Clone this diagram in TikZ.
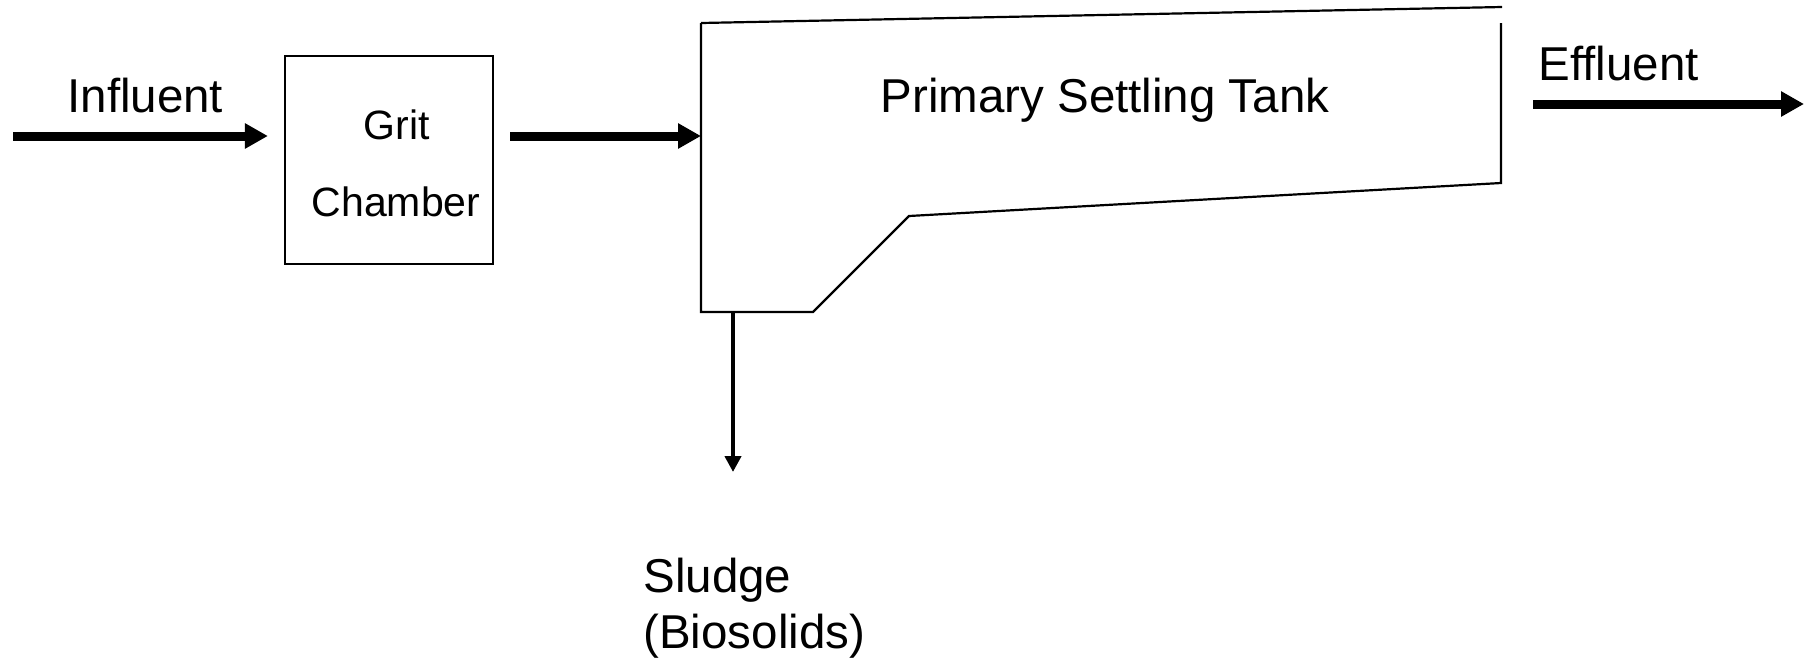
\documentclass[tikz,border=0pt]{standalone}
\usepackage{fontspec}
\setmainfont{Liberation Sans}
\usetikzlibrary{arrows.meta}
\begin{document}
\begin{tikzpicture}[x=0.5pt,y=-0.5pt,
  thickflow/.style={line width=4.5pt,-{Triangle[length=11.5pt,width=12pt]}},
  thinflow/.style={line width=2pt,-{Triangle[length=8pt,width=8pt]}},
  outline/.style={line width=1.1pt,line join=miter},
  lbl/.style={inner sep=0pt,font=\fontsize{23.75pt}{28pt}\selectfont},
  small/.style={inner sep=0pt,font=\fontsize{20.5pt}{24pt}\selectfont},
]
\useasboundingbox (0,0) rectangle (1815,660);

% Grit chamber
\node[draw,outline,minimum width=104pt,minimum height=104pt,inner sep=0pt] (grit) at (389,160) {};
\node[small,anchor=base] (gritA) at (397,139) {Grit};
\node[small,anchor=base] (gritB) at (396,216) {Chamber};

% Primary settling tank
\coordinate (tankTL) at (701,23);
\coordinate (tankTR) at (1502,7);
\coordinate (tankRT) at (1501,23);
\coordinate (tankRB) at (1501,183);
\coordinate (tankSlopeTop) at (909,216);
\coordinate (tankSlopeBot) at (813,312);
\coordinate (tankBL) at (701,312);
\coordinate (tankIn) at (701,136);
\coordinate (sludgeOut) at (733,312);
\draw[outline] (tankTL) -- (tankTR);
\draw[outline] (tankRT) -- (tankRB) -- (tankSlopeTop) -- (tankSlopeBot) -- (tankBL) -- (tankTL);
\node[lbl,anchor=base] (tankLbl) at (1105,112) {Primary Settling Tank};

% Influent
\coordinate (inStart) at (13,136);
\node[lbl,anchor=base west] (influent) at (67,112) {Influent};
\draw[thickflow,shorten >=8pt] (inStart) -- (grit.west |- inStart);

% Grit -> tank
\draw[thickflow,shorten <=8pt] (grit.east |- tankIn) -- (tankIn);

% Effluent
\coordinate (effStart) at (1533,104);
\coordinate (effEnd) at (1804,104);
\node[lbl,anchor=base west] (effluent) at (1538,80) {Effluent};
\draw[thickflow] (effStart) -- (effEnd);

% Sludge
\coordinate (sludgeEnd) at (733,472);
\draw[thinflow] (sludgeOut) -- (sludgeEnd);
\node[lbl,anchor=base west] (sludge) at (643,592) {Sludge};
\node[lbl,anchor=base west] (bios) at (643,648) {(Biosolids)};
\end{tikzpicture}
\end{document}
